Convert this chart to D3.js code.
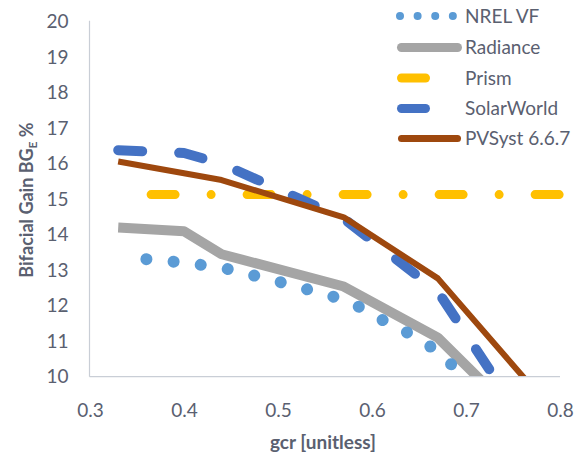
<!DOCTYPE html>
<html>
<head>
<meta charset="utf-8">
<script src="https://cdn.jsdelivr.net/npm/d3@7/dist/d3.min.js"></script>
<style>
  html, body { margin: 0; padding: 0; background: #ffffff; }
  svg { display: block; font-family: Lato, "Open Sans", sans-serif; }
</style>
</head>
<body>
<svg id="chart" width="586" height="460"></svg>
<script>
// Bifacial gain versus ground coverage ratio for five models
const seriesNames = ["NREL VF", "Radiance", "Prism", "SolarWorld", "PVSyst 6.6.7"];

const gcrNrel = [0.360, 0.389, 0.418, 0.447, 0.4745, 0.503, 0.531, 0.5595, 0.586, 0.611, 0.637, 0.662, 0.685, 0.706];
const nrelVF  = [13.31, 13.24, 13.15, 13.03, 12.85, 12.66, 12.46, 12.25, 11.97, 11.60, 11.25, 10.85, 10.33, 9.96];

const gcrModels  = [0.33, 0.40, 0.44, 0.57, 0.67, 0.80];
const radiance   = [14.20, 14.10, 13.45, 12.54, 11.10, 7.7];
const solarWorld = [16.38, 16.30, 16.00, 14.45, 12.40, 7.2];
const pvsyst     = [16.06, 15.73, 15.54, 14.49, 12.77, 8.8];

const gcrPrism = [0.365, 0.80];
const prism    = [15.13, 15.13];

const xTicks = [0.3, 0.4, 0.5, 0.6, 0.7, 0.8];
const yTicks = [10, 11, 12, 13, 14, 15, 16, 17, 18, 19, 20];

const svg = d3.select("#chart");
const textColor = "#5a6070";
const axisColor = "#c9ced6";

const x = d3.scaleLinear().domain([0.3, 0.8]).range([90, 560]);
const y = d3.scaleLinear().domain([10, 20]).range([376.7, 21.7]);

// Lines stop at the bottom of the value axis
svg.append("defs").append("clipPath").attr("id", "plotClip")
  .append("rect").attr("x", 0).attr("y", 0).attr("width", 586).attr("height", y(10));

const styles = {
  "NREL VF":      { color: "#5b9bd5", width: 12, dash: "0.01,27.3", cap: "round",
                    lw: 8, ldash: "0.01,17.6" },
  "Radiance":     { color: "#a5a5a5", width: 10, dash: null, cap: "butt",
                    lw: 9, ldash: null },
  "Prism":        { color: "#ffc000", width: 9, dash: "24,36,0.01,36", cap: "round",
                    lw: 9, ldash: "24,36,0.01,36" },
  "SolarWorld":   { color: "#4472c4", width: 10, dash: "24,37", cap: "round",
                    lw: 9, ldash: "24,37" },
  "PVSyst 6.6.7": { color: "#9e480e", width: 6, dash: null, cap: "butt",
                    lw: 7, ldash: null }
};

const series = [
  { name: "Prism",        xs: gcrPrism,  ys: prism },
  { name: "Radiance",     xs: gcrModels, ys: radiance },
  { name: "NREL VF",      xs: gcrNrel,   ys: nrelVF },
  { name: "SolarWorld",   xs: gcrModels, ys: solarWorld },
  { name: "PVSyst 6.6.7", xs: gcrModels, ys: pvsyst }
];

const line = d3.line().x(d => x(d[0])).y(d => y(d[1]));

const plot = svg.append("g").attr("clip-path", "url(#plotClip)");
series.forEach(s => {
  const st = styles[s.name];
  plot.append("path")
    .datum(s.xs.map((v, i) => [v, s.ys[i]]))
    .attr("d", line)
    .attr("fill", "none")
    .attr("stroke", st.color)
    .attr("stroke-width", st.width)
    .attr("stroke-linecap", st.cap)
    .attr("stroke-linejoin", "round")
    .attr("stroke-dasharray", st.dash);
});

// Axis lines
svg.append("line").attr("x1", 89.5).attr("x2", 89.5).attr("y1", y(20) - 1).attr("y2", y(10))
  .attr("stroke", axisColor).attr("stroke-width", 1.2);
svg.append("line").attr("x1", 89.5).attr("x2", x(0.8)).attr("y1", y(10)).attr("y2", y(10))
  .attr("stroke", axisColor).attr("stroke-width", 1.2);

// Tick labels
const yAxis = svg.append("g").attr("transform", "translate(89.5,0)")
  .call(d3.axisLeft(y).tickValues(yTicks).tickSize(0).tickPadding(21).tickFormat(d3.format("d")));
const xAxis = svg.append("g").attr("transform", `translate(0,${y(10)})`)
  .call(d3.axisBottom(x).tickValues(xTicks).tickSize(0).tickPadding(26.5).tickFormat(d3.format(".1f")));
[yAxis, xAxis].forEach(a => {
  a.select(".domain").remove();
  a.selectAll("text").attr("fill", textColor).attr("font-size", 19)
    .attr("font-family", "Lato, 'Open Sans', sans-serif");
});

// Axis titles
svg.append("text")
  .attr("x", 323).attr("y", 449)
  .attr("text-anchor", "middle")
  .attr("font-size", 19).attr("font-weight", "bold").attr("fill", textColor)
  .text("gcr [unitless]");

const yTitle = svg.append("text")
  .attr("transform", "translate(33,200) rotate(-90)")
  .attr("text-anchor", "middle")
  .attr("font-size", 18).attr("font-weight", "bold").attr("fill", textColor);
yTitle.append("tspan").text("Bifacial Gain BG");
yTitle.append("tspan").attr("font-size", 12).attr("dy", 4).text("E");
yTitle.append("tspan").attr("dy", -4).text(" %");

// Legend
const legendY = [16, 47.5, 78, 108.5, 138.5];
const legend = svg.append("g");
seriesNames.forEach((name, i) => {
  const st = styles[name];
  const ly = legendY[i];
  const x0 = name === "NREL VF" ? 400 : 401.5;
  legend.append("line")
    .attr("x1", x0).attr("x2", name === "NREL VF" ? 455 : 457.5)
    .attr("y1", ly).attr("y2", ly)
    .attr("stroke", st.color).attr("stroke-width", st.lw)
    .attr("stroke-linecap", st.cap === "butt" ? "round" : st.cap)
    .attr("stroke-dasharray", st.ldash);
  legend.append("text")
    .attr("x", 465).attr("y", ly).attr("dy", "0.36em")
    .attr("font-size", 19).attr("fill", textColor)
    .text(name);
});
</script>
</body>
</html>
